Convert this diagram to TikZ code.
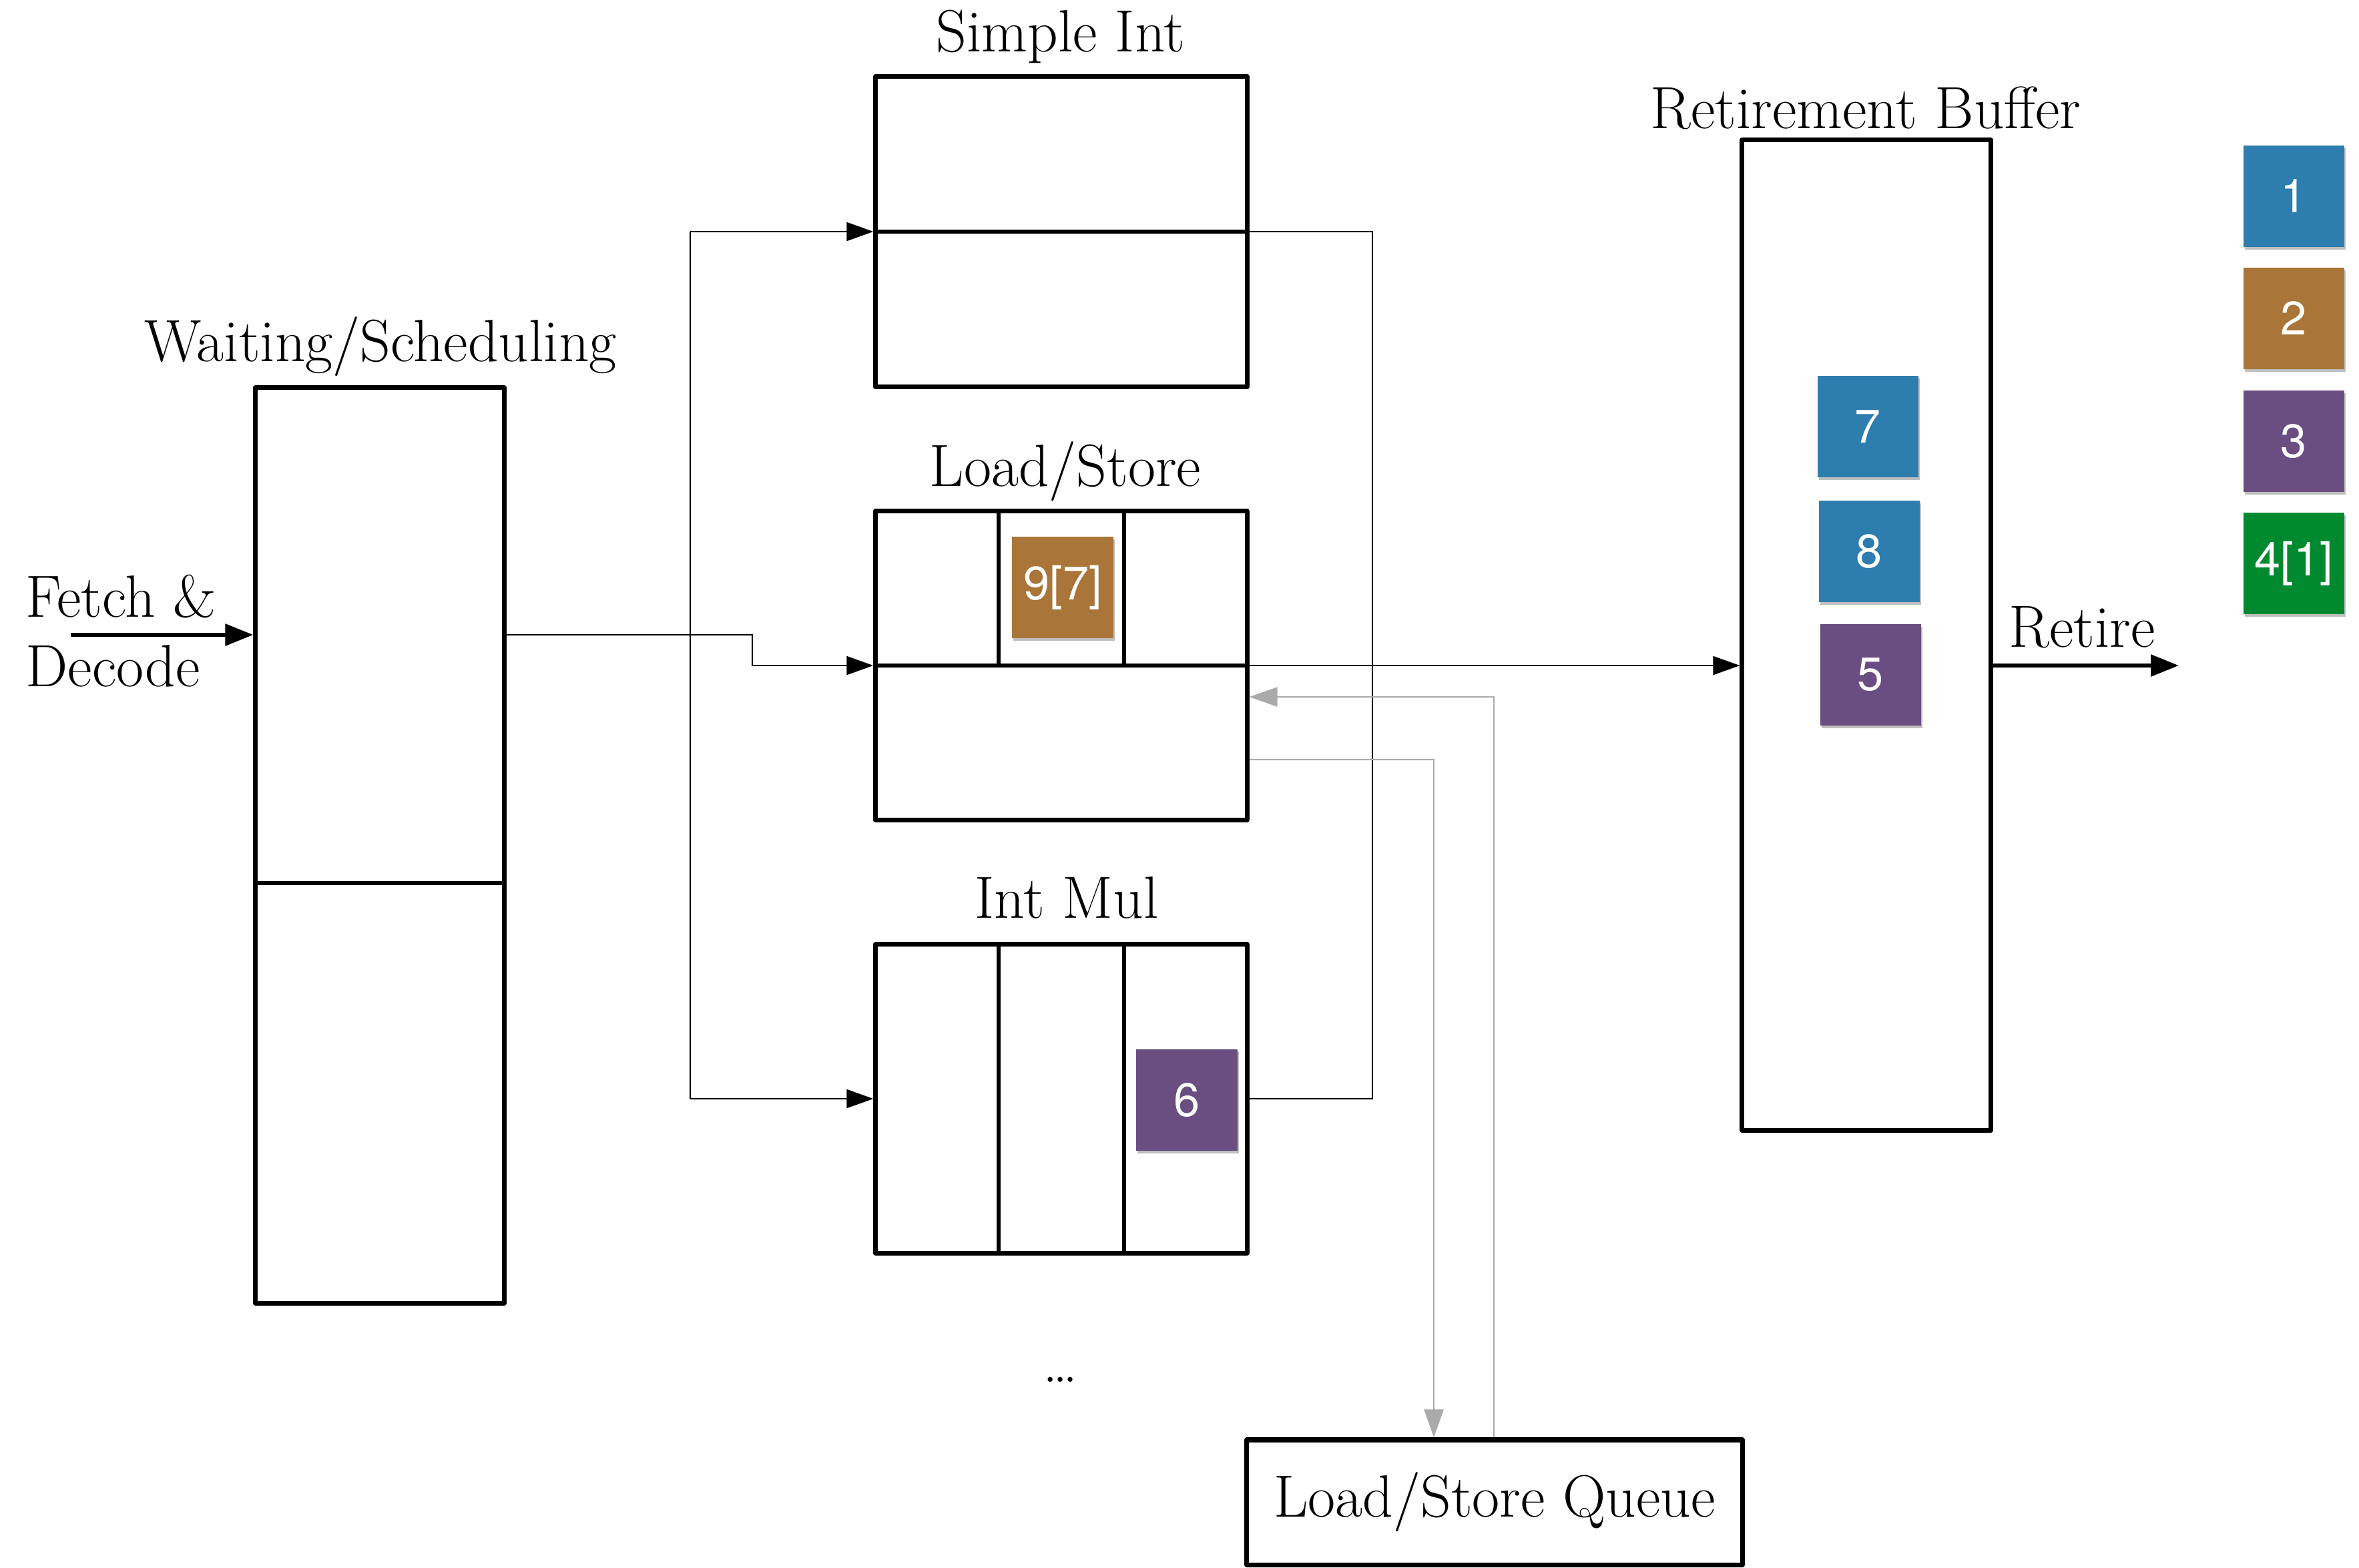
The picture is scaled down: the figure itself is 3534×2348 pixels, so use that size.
\documentclass[tikz,border=0pt]{standalone}
\usepackage{fontspec}
\newfontfamily\sqfont{TeX Gyre Heros}
\usetikzlibrary{arrows.meta,shadows,calc}
\definecolor{sqblue}{RGB}{46,125,175}
\definecolor{sqbrown}{RGB}{169,117,56}
\definecolor{sqpurple}{RGB}{106,78,130}
\definecolor{sqgreen}{RGB}{0,137,47}
\definecolor{lsgrey}{RGB}{170,170,170}
\begin{document}
\begin{tikzpicture}[x=0.01cm,y=-0.01cm,
  lbl/.style={font=\fontsize{25.4}{29.6}\selectfont, inner sep=0pt},
  unit/.style={draw, line width=2pt, line join=round, inner sep=0pt},
  divider/.style={line width=1.9pt},
  conn/.style={line width=0.65pt},
  arr/.style={-{Triangle[length=0.4cm,width=0.28cm]}},
  bigarr/.style={line width=1.7pt, -{Triangle[length=0.42cm,width=0.32cm]}},
  greyarr/.style={draw=lsgrey, line width=0.8pt, -{Triangle[length=0.42cm,width=0.29cm]}},
  sq/.style={minimum width=1.51cm, minimum height=1.51cm, inner sep=0pt, text=white,
    font=\sqfont\fontsize{20}{24}\selectfont,
    drop shadow={shadow xshift=0.02cm, shadow yshift=-0.04cm, opacity=0.25, fill=black}}
]
\useasboundingbox (0,0) rectangle (3534,2348);

% main boxes
\node[unit, minimum width=3.72cm, minimum height=13.71cm] (ws) at (569,1266.5) {};
\node[unit, minimum width=5.56cm, minimum height=4.64cm] (si) at (1590,347) {};
\node[unit, minimum width=5.56cm, minimum height=4.62cm] (ls) at (1590,997) {};
\node[unit, minimum width=5.56cm, minimum height=4.62cm] (im) at (1590,1646) {};
\node[unit, minimum width=3.72cm, minimum height=14.83cm] (rb) at (2796,951.5) {};
\node[unit, lbl, minimum width=7.42cm, minimum height=1.87cm] (lsq) at (2239,2250.5) {Load/Store Queue};

% dividers
\coordinate (wsdiv) at (0,1323);
\draw[divider] (ws.west |- wsdiv) -- (ws.east |- wsdiv);
\draw[divider] (si.west) -- (si.east);
\draw[divider] (ls.west) -- (ls.east);
\draw[divider] ($(ls.north west)!1/3!(ls.north east)$) -- ($(ls.west)!1/3!(ls.east)$);
\draw[divider] ($(ls.north west)!2/3!(ls.north east)$) -- ($(ls.west)!2/3!(ls.east)$);
\draw[divider] ($(im.north west)!1/3!(im.north east)$) -- ($(im.south west)!1/3!(im.south east)$);
\draw[divider] ($(im.north west)!2/3!(im.north east)$) -- ($(im.south west)!2/3!(im.south east)$);

% labels
\node[lbl, anchor=base] (siL) at (1589,77) {Simple Int};
\node[lbl, anchor=base] (wsL) at (570,541) {Waiting/Scheduling};
\node[lbl, anchor=base] (lsL) at (1596,728) {Load/Store};
\node[lbl, anchor=base] (imL) at (1598,1375) {Int Mul};
\node[lbl, anchor=base] (rbL) at (2795,192) {Retirement Buffer};
\node[lbl, anchor=base west] (fdA) at (38,924) {Fetch \&};
\node[lbl, anchor=base west] (fdB) at (38,1028) {Decode};
\node[lbl, anchor=base west] (retL) at (3009,969) {Retire};
\node[lbl, anchor=base] (dots) at (1589,2070) {\ldots};

% connectors
\coordinate (fs) at (106,951);
\draw[bigarr] (fs) -- (fs -| ws.west);
\coordinate (bend) at (1127,951);
\draw[conn, arr] (fs -| ws.east) -- (bend) |- (ls.west);
\coordinate (busx) at (1034,0);
\draw[conn] (si.west -| busx) -- (im.west -| busx);
\draw[conn, arr] (si.west -| busx) -- (si.west);
\draw[conn, arr] (im.west -| busx) -- (im.west);
\coordinate (obx) at (2056,0);
\draw[conn] (si.east) -| (obx |- im.east) -- (im.east);
\draw[conn, arr] (ls.east) -- (ls.east -| rb.west);
\coordinate (retEnd) at (3264,997);
\draw[bigarr] (rb.east |- ls.east) -- (retEnd);
\coordinate (g1) at (2238,1044);
\coordinate (g2) at (2148,1138);
\draw[greyarr] (lsq.north -| g1) |- (g1 -| ls.east);
\draw[greyarr] (g2 -| ls.east) -| (lsq.north -| g2);

% instruction squares
\node[sq, fill=sqbrown] (i9) at (1592,880) {9[7]};
\node[sq, fill=sqpurple] (i6) at (1778,1648) {6};
\node[sq, fill=sqblue] (i7) at (2798,639) {7};
\node[sq, fill=sqblue] (i8) at (2800,826) {8};
\node[sq, fill=sqpurple] (i5) at (2802,1011) {5};
\node[sq, fill=sqblue] (k1) at (3436,294) {1};
\node[sq, fill=sqbrown] (k2) at (3436,477) {2};
\node[sq, fill=sqpurple] (k3) at (3436,661) {3};
\node[sq, fill=sqgreen] (k4) at (3436,844) {4[1]};
\end{tikzpicture}
\end{document}
